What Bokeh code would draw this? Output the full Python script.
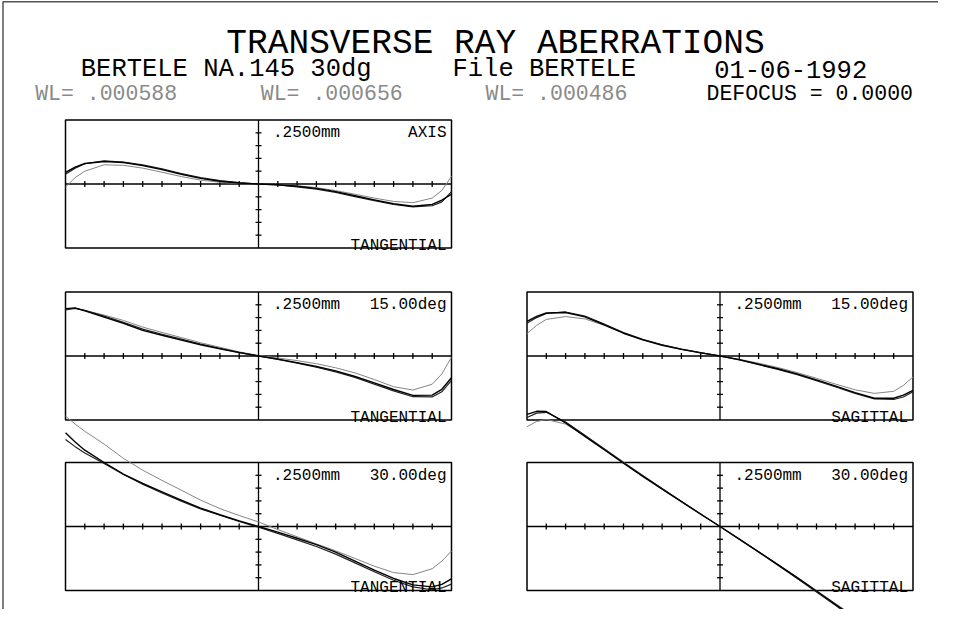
from bokeh.plotting import figure
from bokeh.models import Range1d
from bokeh.embed import file_html
from bokeh.resources import INLINE
from bokeh.core.properties import value

# ---------------- data ----------------
# relative pupil coordinate
U = [-1.0, -0.95, -0.9, -0.8, -0.7, -0.6, -0.5, -0.4, -0.3, -0.2, -0.1, 0.0,
     0.1, 0.2, 0.3, 0.4, 0.5, 0.6, 0.7, 0.8, 0.9, 0.95, 1.0]

# transverse ray aberration (mm), three wavelengths per fan
AX_588 = [0.045, 0.066, 0.080, 0.088, 0.084, 0.072, 0.056, 0.038, 0.022, 0.011, 0.004, 0.0,
          -0.003, -0.009, -0.017, -0.030, -0.046, -0.062, -0.077, -0.087, -0.080, -0.063, -0.040]
AX_656 = [0.038, 0.062, 0.079, 0.090, 0.086, 0.075, 0.059, 0.041, 0.025, 0.013, 0.005, 0.0,
          -0.004, -0.011, -0.020, -0.033, -0.049, -0.065, -0.080, -0.089, -0.085, -0.070, -0.030]
AX_486 = [-0.012, 0.025, 0.050, 0.075, 0.073, 0.062, 0.046, 0.029, 0.015, 0.007, 0.002, 0.0,
          -0.002, -0.007, -0.014, -0.026, -0.040, -0.055, -0.068, -0.073, -0.055, -0.025, 0.030]

T15_588 = [0.185, 0.188, 0.176, 0.152, 0.128, 0.100, 0.081, 0.062, 0.044, 0.028, 0.013, 0.0,
           -0.012, -0.026, -0.041, -0.058, -0.080, -0.105, -0.131, -0.154, -0.153, -0.130, -0.085]
T15_656 = [0.180, 0.186, 0.178, 0.156, 0.132, 0.105, 0.085, 0.066, 0.047, 0.030, 0.014, 0.0,
           -0.013, -0.028, -0.044, -0.062, -0.084, -0.110, -0.136, -0.159, -0.160, -0.140, -0.095]
T15_486 = [0.184, 0.186, 0.178, 0.160, 0.139, 0.113, 0.092, 0.072, 0.052, 0.034, 0.016, 0.002,
           -0.008, -0.018, -0.030, -0.046, -0.066, -0.092, -0.120, -0.133, -0.110, -0.070, -0.005]

S15_588 = [0.135, 0.155, 0.168, 0.170, 0.153, 0.122, 0.089, 0.063, 0.042, 0.026, 0.012, 0.0,
           -0.014, -0.032, -0.050, -0.070, -0.093, -0.118, -0.143, -0.165, -0.165, -0.153, -0.134]
S15_656 = [0.128, 0.150, 0.166, 0.172, 0.156, 0.125, 0.092, 0.065, 0.044, 0.027, 0.013, 0.0,
           -0.015, -0.034, -0.052, -0.073, -0.096, -0.121, -0.146, -0.168, -0.170, -0.160, -0.140]
S15_486 = [0.087, 0.120, 0.143, 0.154, 0.145, 0.120, 0.089, 0.063, 0.044, 0.027, 0.013, 0.0,
           -0.013, -0.028, -0.045, -0.065, -0.087, -0.110, -0.132, -0.146, -0.138, -0.115, -0.082]

T30_588 = [0.366, 0.330, 0.298, 0.250, 0.205, 0.168, 0.135, 0.103, 0.072, 0.046, 0.022, 0.0,
           -0.022, -0.046, -0.071, -0.100, -0.135, -0.170, -0.203, -0.228, -0.236, -0.226, -0.205]
T30_656 = [0.340, 0.312, 0.287, 0.246, 0.203, 0.165, 0.131, 0.099, 0.069, 0.044, 0.020, -0.003,
           -0.027, -0.052, -0.078, -0.108, -0.142, -0.177, -0.210, -0.236, -0.247, -0.240, -0.225]
T30_486 = [0.431, 0.400, 0.372, 0.322, 0.266, 0.220, 0.180, 0.142, 0.103, 0.070, 0.043, 0.018,
           -0.012, -0.040, -0.068, -0.095, -0.125, -0.155, -0.180, -0.188, -0.165, -0.135, -0.096]

S30_588 = [0.438, 0.450, 0.449, 0.405, 0.352, 0.300, 0.247, 0.196, 0.146, 0.097, 0.048, 0.0,
           -0.049, -0.099, -0.149, -0.200, -0.252, -0.305, -0.358, -0.410, -0.452, -0.458, -0.445]
S30_656 = [0.426, 0.443, 0.446, 0.408, 0.356, 0.303, 0.250, 0.198, 0.148, 0.098, 0.049, 0.0,
           -0.050, -0.100, -0.151, -0.203, -0.256, -0.309, -0.362, -0.414, -0.455, -0.462, -0.450]
S30_486 = [0.390, 0.410, 0.418, 0.400, 0.355, 0.305, 0.252, 0.200, 0.149, 0.099, 0.049, 0.0,
           -0.049, -0.098, -0.148, -0.198, -0.250, -0.302, -0.352, -0.400, -0.425, -0.420, -0.400]

XTICKS = [-0.9, -0.8, -0.7, -0.6, -0.5, -0.4, -0.3, -0.2, -0.1,
          0.1, 0.2, 0.3, 0.4, 0.5, 0.6, 0.7, 0.8, 0.9]
YTICKS = [-0.2, -0.15, -0.1, -0.05, 0.05, 0.1, 0.15, 0.2]
HALF_SCALE = 0.25          # mm, half height of each fan box
SCALE_LABEL = ".2500mm"

TITLE = "TRANSVERSE RAY ABERRATIONS"
SUBTITLES = ["BERTELE NA.145 30dg", "File BERTELE", "01-06-1992"]
WAVELENGTHS = ["WL= .000588", "WL= .000656", "WL= .000486"]
DEFOCUS = "DEFOCUS =  0.0000"

# (column, row, dark series A, dark series B, light series, field label, fan label)
PANELS = [
    (0, 0, AX_588, AX_656, AX_486, "AXIS", "TANGENTIAL"),
    (0, 1, T15_588, T15_656, T15_486, "15.00deg", "TANGENTIAL"),
    (1, 1, S15_588, S15_656, S15_486, "15.00deg", "SAGITTAL"),
    (0, 2, T30_588, T30_656, T30_486, "30.00deg", "TANGENTIAL"),
    (1, 2, S30_588, S30_656, S30_486, "30.00deg", "SAGITTAL"),
]

# ---------------- layout ----------------
CANVAS_W, CANVAS_H = 938, 609
MARGIN = 8
PX_U = 193.0     # pixels per unit pupil coordinate
PX_MM = 256.0    # pixels per mm of aberration
COL_PX = [266.0, 727.5]
ROW_PX = [191.5, 363.5, 534.0]


def dx(px):
    return (px - COL_PX[0]) / PX_U


def dy(py):
    return (ROW_PX[0] - py) / PX_MM


COL_X = [dx(c) for c in COL_PX]
ROW_Y = [dy(r) for r in ROW_PX]

p = figure(width=CANVAS_W, height=CANVAS_H,
           x_range=Range1d(dx(MARGIN), dx(MARGIN + CANVAS_W)),
           y_range=Range1d(dy(MARGIN + CANVAS_H), dy(MARGIN)),
           output_backend="svg", toolbar_location=None,
           x_axis_location=None, y_axis_location=None,
           min_border=0, tools="")
p.xgrid.visible = False
p.ygrid.visible = False
p.outline_line_color = None
p.background_fill_color = "white"
p.border_fill_color = "white"

FONT = value("Liberation Mono")

# outer page frame (top and left edges visible)
p.line([dx(10.5), dx(10.5), dx(980)], [dy(660), dy(9.3), dy(9.3)],
       line_color="#555555", line_width=1.5)

# fan boxes
p.quad(left=[COL_X[c] - 1 for c, r, *_ in PANELS],
       right=[COL_X[c] + 1 for c, r, *_ in PANELS],
       bottom=[ROW_Y[r] - HALF_SCALE for c, r, *_ in PANELS],
       top=[ROW_Y[r] + HALF_SCALE for c, r, *_ in PANELS],
       fill_color=None, line_color="black", line_width=1.5)

TICK_Y = 3.0 / PX_MM
TICK_X = 3.0 / PX_U
for c, r, a, b, lt, field, fan in PANELS:
    cx, cy = COL_X[c], ROW_Y[r]
    # axes
    p.segment(x0=[cx - 1, cx], y0=[cy, cy - HALF_SCALE],
              x1=[cx + 1, cx], y1=[cy, cy + HALF_SCALE],
              line_color="black", line_width=1.3)
    # ticks
    p.segment(x0=[cx + t for t in XTICKS], y0=[cy - TICK_Y] * len(XTICKS),
              x1=[cx + t for t in XTICKS], y1=[cy + TICK_Y] * len(XTICKS),
              line_color="black", line_width=1.3)
    p.segment(x0=[cx - TICK_X] * len(YTICKS), y0=[cy + t for t in YTICKS],
              x1=[cx + TICK_X] * len(YTICKS), y1=[cy + t for t in YTICKS],
              line_color="black", line_width=1.3)
    # curves
    xs = [cx + u for u in U]
    p.line(xs, [cy + v for v in lt], line_color="#858585", line_width=1.0,
           line_join="round")
    p.line(xs, [cy + v for v in b], line_color="#222222", line_width=1.2,
           line_join="round")
    p.line(xs, [cy + v for v in a], line_color="#000000", line_width=1.4,
           line_join="round")
    # labels
    p.text(x=[cx + 14.5 / PX_U], y=[cy + HALF_SCALE - 13.4 / PX_MM], text=[SCALE_LABEL],
           text_font=FONT, text_font_size=value("16px"), text_color="black",
           text_align="left", text_baseline="alphabetic")
    p.text(x=[cx + 1 - 5 / PX_U], y=[cy + HALF_SCALE - 13.4 / PX_MM], text=[field],
           text_font=FONT, text_font_size=value("16px"), text_color="black",
           text_align="right", text_baseline="alphabetic")
    p.text(x=[cx + 1 - 5 / PX_U], y=[cy - HALF_SCALE + 2.5 / PX_MM], text=[fan],
           text_font=FONT, text_font_size=value("16px"), text_color="black",
           text_align="right", text_baseline="alphabetic")

# header
p.text(x=[dx(503)], y=[dy(50.5)], text=[TITLE], text_font=FONT,
       text_font_size=value("34.5px"), text_color="black",
       text_align="center", text_baseline="alphabetic")
p.text(x=[dx(88.3), dx(460), dx(721.7)], y=[dy(77.3)] * 3, text=SUBTITLES,
       text_font=FONT, text_font_size=value("25.5px"), text_color="black",
       text_align="left", text_baseline="alphabetic")
p.text(x=[dx(42.7), dx(268.3), dx(493)], y=[dy(101.7)] * 3, text=WAVELENGTHS,
       text_font=FONT, text_font_size=value("21.5px"), text_color="#8a8a8a",
       text_align="left", text_baseline="alphabetic")
p.text(x=[dx(714)], y=[dy(101.7)], text=[DEFOCUS],
       text_font=FONT, text_font_size=value("21.5px"), text_color="black",
       text_align="left", text_baseline="alphabetic")

open("out.html", "w").write(file_html(p, INLINE))
